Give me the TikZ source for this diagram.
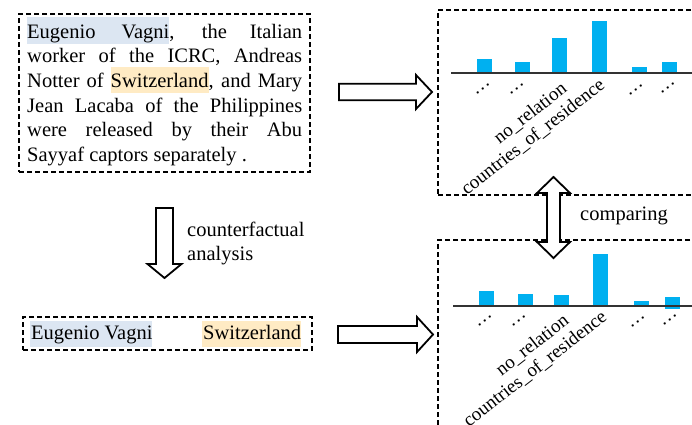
\documentclass[tikz,border=0pt]{standalone}
\usepackage{fontspec}
\setmainfont{Liberation Serif}
\usetikzlibrary{calc}

\definecolor{hlblue}{HTML}{DCE6F2}
\definecolor{hlorange}{HTML}{FFEBC4}
\definecolor{barblue}{HTML}{00B0F0}
\definecolor{axisgray}{HTML}{333333}

% highlighted word: colour, strut height, strut depth, text
\newcommand{\hlword}[4]{{\setlength{\fboxsep}{0pt}\colorbox{#1}{\rule[-#3]{0pt}{#2}#4}}}

\tikzset{
  txt/.style={inner sep=0pt, font=\fontsize{20.5}{24.7}\selectfont},
  lbl/.style={inner sep=0pt, anchor=base east, rotate=38, font=\fontsize{19}{22}\selectfont},
  dashedbox/.style={draw=black, line width=1.1pt, dash pattern=on 5pt off 3pt},
  blockarrow/.style={draw=black, fill=white, line width=1.8pt, line join=miter},
  axisline/.style={draw=axisgray, line width=1.6pt},
  bar/.style={fill=barblue}
}

\begin{document}
\begin{tikzpicture}[x=1pt, y=-1pt]
\clip (0,0) rectangle (692,424);
\useasboundingbox (0,0) rectangle (692,424);

% ---- original sentence ----
\node[txt, anchor=base west] (l1) at (27,38)
  {\makebox[275pt][s]{\hlword{hlblue}{26.6pt}{5.6pt}{Eugenio\hspace{26pt}Vagni}, the Italian}};
\node[txt, anchor=base west] (l2) at (27,62.7)
  {\makebox[275pt][s]{worker of the ICRC, Andreas}};
\node[txt, anchor=base west] (l3) at (27,87.4)
  {\makebox[275pt][s]{Notter of \hlword{hlorange}{26pt}{5.6pt}{Switzerland}, and Mary}};
\node[txt, anchor=base west] (l4) at (27,112.1)
  {\makebox[275pt][s]{Jean Lacaba of the Philippines}};
\node[txt, anchor=base west] (l5) at (27,136.8)
  {\makebox[275pt][s]{were released by their Abu}};
\node[txt, anchor=base west] (l6) at (27,161.5)
  {Sayyaf captors separately .};
\node[dashedbox, minimum width=291pt, minimum height=158pt] (sent) at (164.5,93) {};

% ---- reduced sentence ----
\node[dashedbox, minimum width=289pt, minimum height=33pt] (reduced) at (167.5,333.5) {};
\node[txt, anchor=base west] (ev) at (30,339)
  {\hlword{hlblue}{26pt}{7.7pt}{\hspace{1pt}Eugenio Vagni}};
\node[txt, anchor=base west] (sw) at (202,339)
  {\hlword{hlorange}{26pt}{7.7pt}{\hspace{1pt}Switzerland}};

% ---- counterfactual step ----
\coordinate (d1) at (164.5,208);
\draw[blockarrow] (d1) ++(-8.5,0) -- ++(0,56) -- ++(-8.5,0) -- ++(17,14)
  -- ++(17,-14) -- ++(-8.5,0) -- ++(0,-56) -- cycle;
\node[txt, anchor=base west, align=left] (cf) at (187,260.7)
  {counterfactual\\analysis};

% ---- prediction panels ----
\node[dashedbox, minimum width=262pt, minimum height=185pt] (top) at (569,102.5) {};
\node[dashedbox, minimum width=262pt, minimum height=200pt] (bot) at (569,340) {};

% top distribution
\fill[bar] (477,59) rectangle (492,73);
\fill[bar] (515,62) rectangle (530,73);
\fill[bar] (552,38) rectangle (567,73);
\fill[bar] (592,21) rectangle (607,73);
\fill[bar] (632,67) rectangle (647,73);
\fill[bar] (662,62) rectangle (677,73);
\draw[axisline] (451,73) -- (700,73);
\node[lbl] (t1) at (491,84) {…};
\node[lbl] (t2) at (525,84) {…};
\node[lbl] (t3) at (568,91) {no\_relation};
\node[lbl] (t4) at (606,87) {countries\_of\_residence};
\node[lbl] (t5) at (644,85) {…};
\node[lbl] (t6) at (676,83) {…};

% bottom distribution
\fill[bar] (479,291) rectangle (494,306);
\fill[bar] (518,294) rectangle (533,306);
\fill[bar] (554,295) rectangle (569,306);
\fill[bar] (593,254) rectangle (608,306);
\fill[bar] (634,301) rectangle (649,306);
\fill[bar] (665,297) rectangle (680,309);
\draw[axisline] (453,306) -- (700,306);
\node[lbl] (b1) at (493,316) {…};
\node[lbl] (b2) at (527,316) {…};
\node[lbl] (b3) at (570,323) {no\_relation};
\node[lbl] (b4) at (608,319) {countries\_of\_residence};
\node[lbl] (b5) at (646,317) {…};
\node[lbl] (b6) at (678,315) {…};

% ---- arrows between panels ----
\coordinate (a1) at (339,92);
\draw[blockarrow] (a1) ++(0,-8.3) -- ++(77,0) -- ++(0,-8.7) -- ++(16,17)
  -- ++(-16,17) -- ++(0,-8.7) -- ++(-77,0) -- cycle;
\coordinate (a2) at (338,334.5);
\draw[blockarrow] (a2) ++(0,-8.5) -- ++(79,0) -- ++(0,-9) -- ++(16,17.5)
  -- ++(-16,17.5) -- ++(0,-9) -- ++(-79,0) -- cycle;

\coordinate (c1) at (553.5,177);
\draw[blockarrow] (c1) -- ++(16.5,16) -- ++(-10,0) -- ++(0,49) -- ++(10,0)
  -- ++(-16.5,16) -- ++(-16.5,-16) -- ++(10,0) -- ++(0,-49) -- ++(-10,0) -- cycle;
\node[txt, anchor=base west] (cmp) at (580,220) {comparing};

\end{tikzpicture}
\end{document}
